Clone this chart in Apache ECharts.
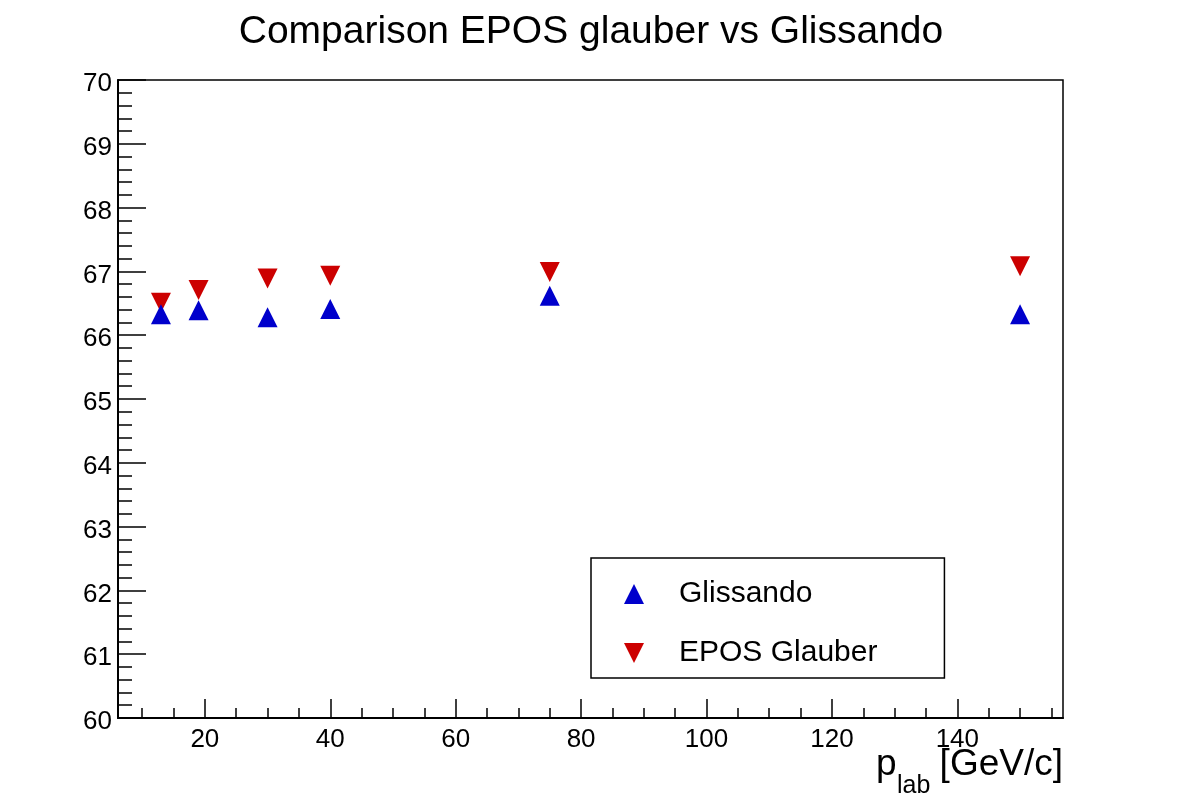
<!DOCTYPE html>
<html>
<head>
<meta charset="utf-8">
<script src="https://cdn.jsdelivr.net/npm/echarts@6/dist/echarts.min.js"></script>
<style>html,body{margin:0;padding:0;background:#fff;}#c{width:1182px;height:798px;}</style>
</head>
<body>
<div id="c"></div>
<script>
var plab = [13, 19, 30, 40, 75, 150];
var glissando = [66.33, 66.39, 66.28, 66.41, 66.62, 66.33];
var eposGlauber = [66.51, 66.71, 66.89, 66.93, 66.99, 67.08];
var xMajorTicks = [20, 40, 60, 80, 100, 120, 140];
var xMinorTicks = [10, 15, 25, 30, 35, 45, 50, 55, 65, 70, 75, 85, 90, 95, 105, 110, 115, 125, 130, 135, 145, 150, 155];
var seriesNames = ['Glissando', 'EPOS Glauber'];
var titleText = 'Comparison EPOS glauber vs Glissando';

var FONT = 'Liberation Sans, Arial, sans-serif';
var downTri = 'path://M0,0L2,0L1,2Z';
function pairs(xs, ys){ return xs.map(function(x,i){ return [x, ys[i]]; }); }

var chart = echarts.init(document.getElementById('c'), null, {renderer:'canvas'});
var X_MIN = 6.15, X_MAX = 156.85;
chart.setOption({
  animation: false,
  backgroundColor: '#fff',
  title: {
    text: titleText, left: 'center', top: 8,
    textStyle: {fontFamily: FONT, fontSize: 39, fontWeight: 'normal', color: '#000'}
  },
  grid: {left: 118, right: 119, top: 80, bottom: 80, show: true, borderColor: '#000', borderWidth: 1.5, backgroundColor: 'transparent'},
  legend: {
    orient: 'vertical', left: 591, top: 558,
    padding: [21, 67, 10, 33], itemGap: 29,
    itemWidth: 20, itemHeight: 20,
    borderColor: '#000', borderWidth: 1.5, backgroundColor: '#fff',
    textStyle: {fontFamily: FONT, fontSize: 30, color: '#000', padding: [0, 0, 0, 30]},
    data: [
      {name: seriesNames[0], icon: 'triangle'},
      {name: seriesNames[1], icon: downTri}
    ]
  },
  xAxis: [{
    type: 'value', min: X_MIN, max: X_MAX,
    axisLine: {show: true, lineStyle: {color: '#000', width: 2}},
    axisTick: {show: true, inside: true, length: 19, customValues: xMajorTicks, lineStyle: {color: '#000', width: 1.5}},
    axisLabel: {show: true, customValues: xMajorTicks, margin: 9, fontFamily: FONT, fontSize: 26, color: '#000'},
    splitLine: {show: false}
  }, {
    type: 'value', min: X_MIN, max: X_MAX, position: 'bottom',
    axisLine: {show: false},
    axisTick: {show: true, inside: true, length: 10, customValues: xMinorTicks, lineStyle: {color: '#000', width: 1.5}},
    axisLabel: {show: false},
    splitLine: {show: false}
  }],
  yAxis: {
    type: 'value', min: 60, max: 70, interval: 1,
    axisLine: {show: true, lineStyle: {color: '#000', width: 2}},
    axisTick: {show: true, inside: true, length: 28, lineStyle: {color: '#000', width: 1.5}},
    minorTick: {show: true, splitNumber: 5, length: 14, lineStyle: {color: '#000', width: 1.5}},
    axisLabel: {margin: 6, fontFamily: FONT, fontSize: 26, color: '#000', verticalAlign: 'top', lineHeight: 8},
    splitLine: {show: false}
  },
  graphic: [
    {type: 'text', right: 119, top: 746, style: {text: '[GeV/c]', font: '37px ' + FONT, fill: '#000'}},
    {type: 'text', left: 876, top: 746, style: {text: 'p', font: '37px ' + FONT, fill: '#000'}},
    {type: 'text', left: 897, top: 774, style: {text: 'lab', font: '25px ' + FONT, fill: '#000'}}
  ],
  series: [{
    name: seriesNames[0], type: 'scatter', symbol: 'triangle', symbolSize: [20, 20],
    itemStyle: {color: '#0000cc', opacity: 1}, data: pairs(plab, glissando), z: 3
  }, {
    name: seriesNames[1], type: 'scatter', symbol: downTri, symbolSize: [20, 20],
    itemStyle: {color: '#cc0000', opacity: 1}, data: pairs(plab, eposGlauber), z: 2
  }]
});
</script>
</body>
</html>
